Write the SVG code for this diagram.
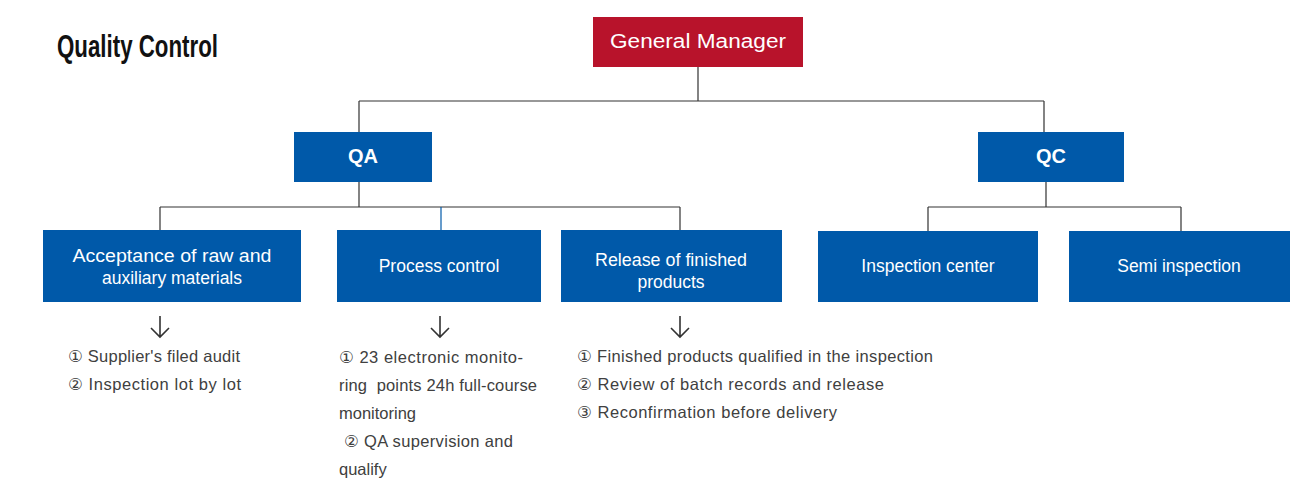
<svg xmlns="http://www.w3.org/2000/svg" width="1313" height="500" viewBox="0 0 1313 500">
<style>
.blue{fill:#0059a9}
.red{fill:#b8132b}
.lbl{font-family:"Liberation Sans","DejaVu Sans",sans-serif;fill:#fff;text-anchor:middle}
.bold{font-weight:bold;font-size:20px}
.box{font-size:17.5px}
.list{font-family:"Liberation Sans","DejaVu Sans",sans-serif;font-size:16.5px;fill:#404040;white-space:pre}
.arr{stroke:#333;stroke-width:1.6;fill:none}
.ln{stroke:#333;stroke-width:1.2;fill:none}
</style>
<rect width="1313" height="500" fill="#fff"/>
<text x="57" y="57" font-family="Liberation Sans,sans-serif" font-weight="bold" font-size="31" textLength="161" lengthAdjust="spacingAndGlyphs" fill="#111">Quality Control</text>
<g id="connectors">
<path class="ln" d="M698 67V101M359 101H1044M359 101V132M1044 101V132M359 182V207M160 207H680M160 207V230M680 207V230M1046 182V207M928 207H1181M928 207V231M1181 207V231"/>
<path d="M441 207V230" stroke="#0059a9" stroke-width="1.2"/>
</g>
<g id="gm"><rect class="red" x="593" y="17" width="210" height="50"/><text class="lbl" x="698" y="48" font-size="20" textLength="176" lengthAdjust="spacingAndGlyphs">General Manager</text></g>
<g id="qa"><rect class="blue" x="294" y="132" width="138" height="50"/><text class="lbl bold" x="363" y="163">QA</text></g>
<g id="qc"><rect class="blue" x="978" y="132" width="146" height="50"/><text class="lbl bold" x="1051" y="163">QC</text></g>
<g id="acceptance"><rect class="blue" x="43" y="230" width="258" height="72"/><text class="lbl box" x="172" y="262" textLength="199" lengthAdjust="spacingAndGlyphs">Acceptance of raw and</text><text class="lbl box" x="172" y="284">auxiliary materials</text></g>
<g id="process"><rect class="blue" x="337" y="230" width="204" height="72"/><text class="lbl box" x="439" y="272">Process control</text></g>
<g id="release"><rect class="blue" x="561" y="230" width="221" height="72"/><text class="lbl box" x="671" y="266" textLength="152" lengthAdjust="spacingAndGlyphs">Release of finished</text><text class="lbl box" x="671" y="288">products</text></g>
<g id="inspection"><rect class="blue" x="818" y="231" width="220" height="71"/><text class="lbl box" x="928" y="272">Inspection center</text></g>
<g id="semi"><rect class="blue" x="1069" y="231" width="221" height="71"/><text class="lbl box" x="1179" y="272">Semi inspection</text></g>
<g id="list1">
<path class="arr" d="M160 316V337M151 328L160 337L169 328"/>
<text class="list" x="68" y="362" textLength="172">① Supplier's filed audit</text>
<text class="list" x="68" y="390" textLength="173">② Inspection lot by lot</text>
</g>
<g id="list2">
<path class="arr" d="M440 316V337M431 328L440 337L449 328"/>
<text class="list" x="339" y="363" textLength="184">① 23 electronic monito-</text>
<text class="list" x="339" y="391" textLength="198">ring  points 24h full-course</text>
<text class="list" x="339" y="419">monitoring</text>
<text class="list" x="339" y="447" textLength="174"> ② QA supervision and</text>
<text class="list" x="339" y="475">qualify</text>
</g>
<g id="list3">
<path class="arr" d="M680 316V337M671 328L680 337L689 328"/>
<text class="list" x="577" y="362" textLength="356">① Finished products qualified in the inspection</text>
<text class="list" x="577" y="390" textLength="307">② Review of batch records and release</text>
<text class="list" x="577" y="418" textLength="260">③ Reconfirmation before delivery</text>
</g>
</svg>
